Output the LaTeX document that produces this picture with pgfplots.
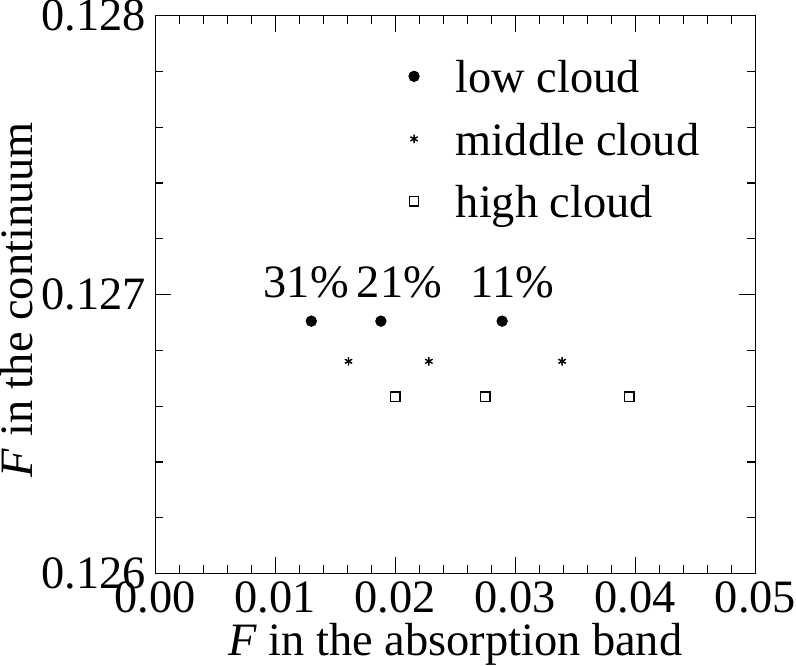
\documentclass[border=0pt]{standalone}
\usepackage{fontspec}
\setmainfont{Liberation Serif}
\usepackage{pgfplots}
\pgfplotsset{compat=1.18}
\begin{document}
\fontsize{23}{27}\selectfont
\begin{tikzpicture}
\begin{axis}[
  scale only axis,
  width=297.5pt, height=276.5pt,
  xmin=0, xmax=0.05, ymin=0.126, ymax=0.128,
  xtick={0,0.01,...,0.05},
  minor x tick num=4,
  ytick={0.126,0.127,0.128},
  minor y tick num=4,
  tick align=inside,
  major tick length=8pt,
  minor tick length=4pt,
  axis line style={line width=0.6pt},
  every tick/.style={black, line width=0.6pt},
  scaled ticks=false,
  /pgf/number format/assume math mode=true,
  xticklabel style={anchor=north, inner sep=0pt, yshift=-4pt, /pgf/number format/.cd, fixed, fixed zerofill, precision=2},
  yticklabel style={anchor=east, inner sep=0pt, xshift=-4.5pt, /pgf/number format/.cd, fixed, fixed zerofill, precision=3},
  tick label style={font=\fontsize{23}{27}\selectfont},
  label style={font=\fontsize{23}{27}\selectfont, inner sep=0pt},
  xlabel={\textit{F} in the absorption band},
  ylabel={\textit{F} in the continuum},
  xlabel style={at={([yshift=-40.5pt]rel axis cs:0.5,0)}, anchor=base},
  ylabel style={at={([xshift=-61pt]rel axis cs:0,0.491)}, anchor=base},
  legend style={draw=none, fill=none, font=\fontsize{23}{27}\selectfont,
    at={(rel axis cs:0.403,0.921)}, anchor=north west, inner sep=0pt,
    row sep=10pt, nodes={inner sep=0pt, text height=16pt, text depth=5pt},
    legend cell align=left},
  legend image code/.code={\path (-8pt,0pt) (20.5pt,0pt); \draw[#1] plot coordinates {(0pt,2.5pt)};},
]
\addplot[only marks, mark=*, mark size=2.6pt, black] coordinates {
  (0.0130,0.126905) (0.0188,0.126905) (0.0289,0.126905)};
\addlegendentry{low cloud}
\addplot[only marks, mark=asterisk, mark size=2.1pt, black, mark options={line width=0.7pt}] coordinates {
  (0.0161,0.126761) (0.0228,0.126761) (0.0339,0.126761)};
\addlegendentry{middle cloud}
\addplot[only marks, mark=square, mark size=2.3pt, black, mark options={line width=0.6pt}] coordinates {
  (0.0200,0.126634) (0.0275,0.126634) (0.0395,0.126634)};
\addlegendentry{high cloud}
\node[anchor=base, inner sep=0pt] at (axis cs:0.01258,0.126991) {31\%};
\node[anchor=base, inner sep=0pt] at (axis cs:0.02034,0.126991) {21\%};
\node[anchor=base, inner sep=0pt] at (axis cs:0.02975,0.126991) {11\%};
\end{axis}
\end{tikzpicture}
\end{document}
